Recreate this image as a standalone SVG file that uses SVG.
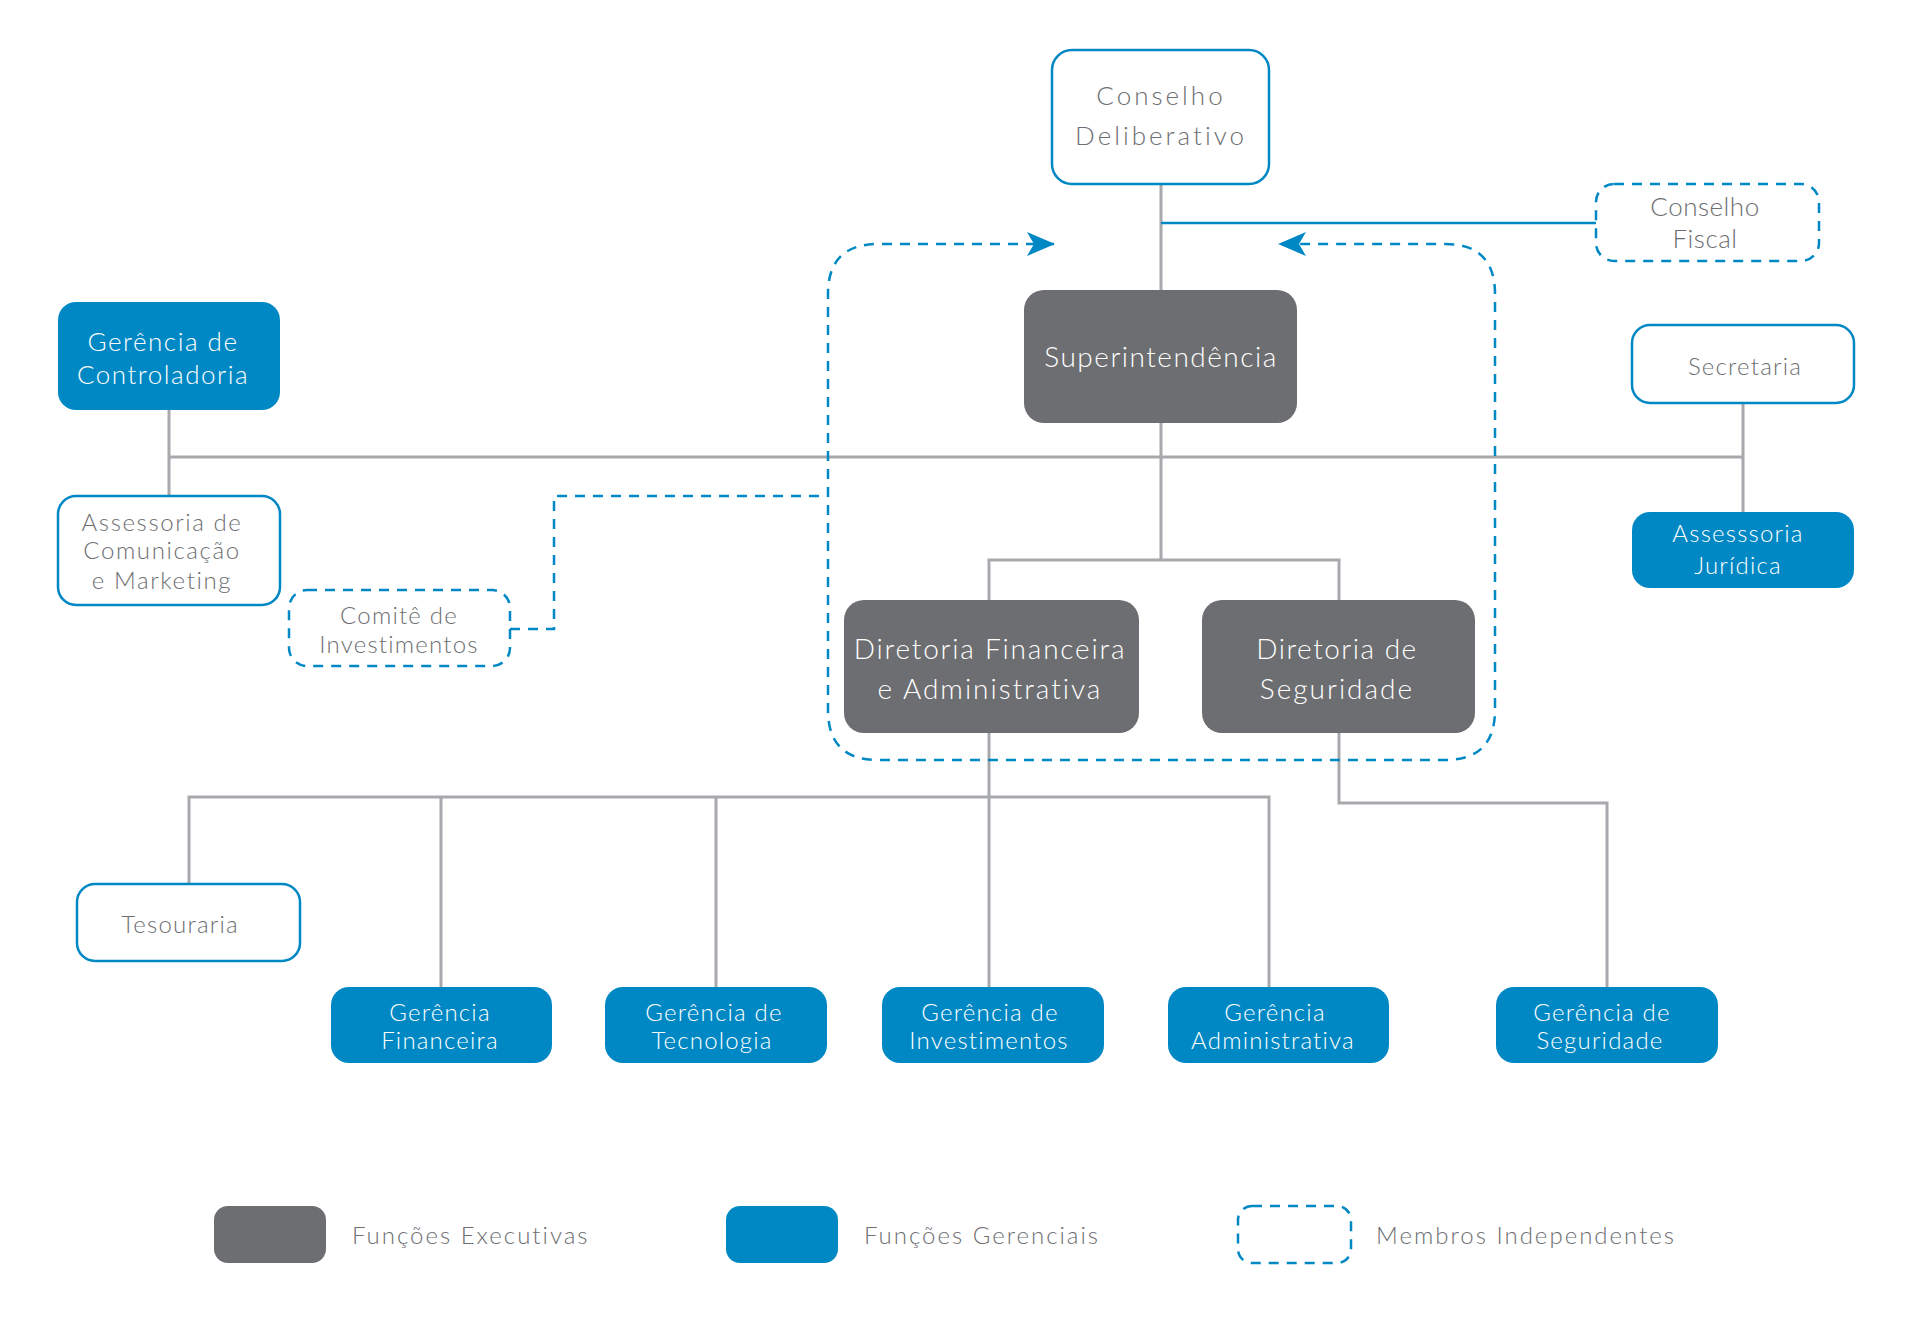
<svg xmlns="http://www.w3.org/2000/svg" width="1910" height="1320" viewBox="0 0 1910 1320">
<style>
text{font-family:Lato,"Liberation Sans",sans-serif;font-weight:300;text-anchor:middle;dominant-baseline:central}
.g{fill:#6d6e71}
.w{fill:#ffffff}
.exe{fill:#6d6e71}
.ger{fill:#0088c4}
.out{fill:#ffffff;stroke:#0088c4;stroke-width:2.5}
.ind{fill:#ffffff;stroke:#0088c4;stroke-width:2.5;stroke-dasharray:10 8}
.ln{fill:none;stroke:#a7a9ac;stroke-width:3}
.bl{fill:none;stroke:#0088c4;stroke-width:2.5}
.dl{fill:none;stroke:#0088c4;stroke-width:2.5;stroke-dasharray:10 8}
.f26{font-size:26px;letter-spacing:1.5px}
.f24{font-size:24px;letter-spacing:1.2px}
.f28{font-size:28px;letter-spacing:1.5px}
.lg{font-size:24px;letter-spacing:2px;text-anchor:start}
</style>
<defs>
<marker id="arr2" viewBox="0 0 28 24" refX="27" refY="12" markerWidth="28" markerHeight="24" markerUnits="userSpaceOnUse" orient="auto-start-reverse">
<path d="M0,0 L28,12 L0,24 L7,12 Z" fill="#0088c4"/>
</marker>
</defs>
<rect width="1910" height="1320" fill="#ffffff"/>
<g id="connectors">
<path class="ln" d="M1161,184 V290"/>
<path class="bl" d="M1161,223 H1596"/>
<path class="ln" d="M169,410 V496"/>
<path class="ln" d="M169,457 H1743"/>
<path class="ln" d="M1743,403 V512"/>
<path class="ln" d="M1161,423 V560"/>
<path class="ln" d="M989,600 V560 H1339 V600"/>
<path class="ln" d="M989,733 V987"/>
<path class="ln" d="M189,884 V797 H1269 V987"/>
<path class="ln" d="M441,797 V987"/>
<path class="ln" d="M716,797 V987"/>
<path class="ln" d="M1339,733 V803 H1607 V987"/>
<path class="dl" d="M1054,244 H878 Q828,244 828,294 V710 Q828,760 878,760 H1445 Q1495,760 1495,710 V294 Q1495,244 1445,244 H1279" marker-start="url(#arr2)" marker-end="url(#arr2)"/>
<path class="dl" d="M510,629 H554 V496 H828"/>
</g>
<g id="conselho-deliberativo">
<rect class="out" x="1052" y="50" width="217" height="134" rx="20"/>
<text class="g f26" x="1161" y="95" style="letter-spacing:3px">Conselho</text>
<text class="g f26" x="1161" y="135" style="letter-spacing:3px">Deliberativo</text>
</g>
<g id="conselho-fiscal">
<rect class="ind" x="1596" y="184" width="223" height="77" rx="18"/>
<text class="g f26" x="1705" y="206" style="letter-spacing:0.5px">Conselho</text>
<text class="g f26" x="1705" y="238" style="letter-spacing:0.5px">Fiscal</text>
</g>
<g id="superintendencia">
<rect class="exe" x="1024" y="290" width="273" height="133" rx="20"/>
<text class="w f28" x="1161" y="356">Superintendência</text>
</g>
<g id="gerencia-controladoria">
<rect class="ger" x="58" y="302" width="222" height="108" rx="18"/>
<text class="w f26" x="163" y="341">Gerência de</text>
<text class="w f26" x="163" y="374">Controladoria</text>
</g>
<g id="assessoria-comunicacao">
<rect class="out" x="58" y="496" width="222" height="109" rx="18"/>
<text class="g f24" x="162" y="521" style="letter-spacing:1.6px">Assessoria de</text>
<text class="g f24" x="162" y="549" style="letter-spacing:1.6px">Comunicação</text>
<text class="g f24" x="162" y="579" style="letter-spacing:1.6px">e Marketing</text>
</g>
<g id="comite-investimentos">
<rect class="ind" x="289" y="590" width="221" height="76" rx="18"/>
<text class="g f24" x="399" y="614">Comitê de</text>
<text class="g f24" x="399" y="643">Investimentos</text>
</g>
<g id="secretaria">
<rect class="out" x="1632" y="325" width="222" height="78" rx="18"/>
<text class="g f24" x="1745" y="365">Secretaria</text>
</g>
<g id="assessoria-juridica">
<rect class="ger" x="1632" y="512" width="222" height="76" rx="18"/>
<text class="w f24" x="1738" y="532">Assesssoria</text>
<text class="w f24" x="1738" y="564">Jurídica</text>
</g>
<g id="diretoria-financeira">
<rect class="exe" x="844" y="600" width="295" height="133" rx="20"/>
<text class="w f28" x="990" y="648" style="letter-spacing:1.8px">Diretoria Financeira</text>
<text class="w f28" x="990" y="688" style="letter-spacing:2px">e Administrativa</text>
</g>
<g id="diretoria-seguridade">
<rect class="exe" x="1202" y="600" width="273" height="133" rx="20"/>
<text class="w f28" x="1337" y="648">Diretoria de</text>
<text class="w f28" x="1337" y="688" style="letter-spacing:2px">Seguridade</text>
</g>
<g id="tesouraria">
<rect class="out" x="77" y="884" width="223" height="77" rx="18"/>
<text class="g f24" x="180" y="923">Tesouraria</text>
</g>
<g id="gerencia-financeira">
<rect class="ger" x="331" y="987" width="221" height="76" rx="18"/>
<text class="w f24" x="440" y="1011">Gerência</text>
<text class="w f24" x="440" y="1039">Financeira</text>
</g>
<g id="gerencia-tecnologia">
<rect class="ger" x="605" y="987" width="222" height="76" rx="18"/>
<text class="w f24" x="714" y="1011">Gerência de</text>
<text class="w f24" x="712" y="1039">Tecnologia</text>
</g>
<g id="gerencia-investimentos">
<rect class="ger" x="882" y="987" width="222" height="76" rx="18"/>
<text class="w f24" x="990" y="1011">Gerência de</text>
<text class="w f24" x="989" y="1039">Investimentos</text>
</g>
<g id="gerencia-administrativa">
<rect class="ger" x="1168" y="987" width="221" height="76" rx="18"/>
<text class="w f24" x="1275" y="1011">Gerência</text>
<text class="w f24" x="1273" y="1039">Administrativa</text>
</g>
<g id="gerencia-seguridade">
<rect class="ger" x="1496" y="987" width="222" height="76" rx="18"/>
<text class="w f24" x="1602" y="1011">Gerência de</text>
<text class="w f24" x="1600" y="1039">Seguridade</text>
</g>
<g id="legend">
<rect class="exe" x="214" y="1206" width="112" height="57" rx="14"/>
<text class="g lg" x="352" y="1234">Funções Executivas</text>
<rect class="ger" x="726" y="1206" width="112" height="57" rx="14"/>
<text class="g lg" x="864" y="1234">Funções Gerenciais</text>
<rect class="ind" x="1238" y="1206" width="113" height="57" rx="14"/>
<text class="g lg" x="1376" y="1234">Membros Independentes</text>
</g>
</svg>
